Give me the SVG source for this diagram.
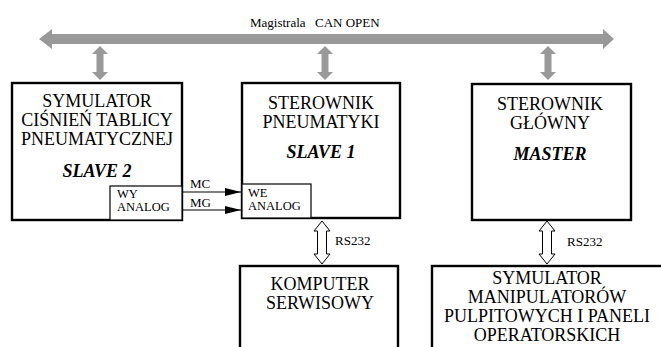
<svg xmlns="http://www.w3.org/2000/svg" width="661" height="347" viewBox="0 0 661 347">
<style>
.box{fill:#fff;stroke:#000;stroke-width:2.4}
.sub{fill:#fff;stroke:#000;stroke-width:1.2}
.t{font-family:"Liberation Serif","Times New Roman",serif;font-size:18px;text-anchor:middle;fill:#000}
.bi{font-family:"Liberation Serif","Times New Roman",serif;font-size:18px;font-weight:bold;font-style:italic;text-anchor:middle;fill:#000}
.s{font-family:"Liberation Serif","Times New Roman",serif;font-size:12.5px;fill:#000}
.bus{fill:#999;stroke:none}
.rs{fill:#fff;stroke:#000;stroke-width:1}
.ln{stroke:#000;stroke-width:1.2;fill:none}
</style>
<defs>
<marker id="ah" viewBox="0 0 16 8" refX="16" refY="4" markerWidth="16" markerHeight="8" markerUnits="userSpaceOnUse" orient="auto">
<path d="M0,0 L16,4 L0,8 Z" fill="#000"/>
</marker>
</defs>
<g id="bus-label"><text class="s" x="250" y="27" style="font-size:13px">Magistrala</text><text class="s" x="315" y="27" style="font-size:13px">CAN OPEN</text></g>
<g id="connectors">
<polygon class="bus" points="39,39 52,29 52,34 603,34 603,29 614,39 603,49 603,44 52,44 52,49"/>
<polygon class="bus" points="100,46 108,54 103.5,54 103.5,72 108,72 100,80 92,72 96.5,72 96.5,54 92,54"/>
<polygon class="bus" points="325,46 333,54 328.5,54 328.5,72 333,72 325,80 317,72 321.5,72 321.5,54 317,54"/>
<polygon class="bus" points="548,46 556,54 551.5,54 551.5,72 556,72 548,80 540,72 544.5,72 544.5,54 540,54"/>
<polygon class="rs" points="322,221 330,231 326.5,231 326.5,254 330,254 322,264 314,254 317.5,254 317.5,231 314,231"/>
<polygon class="rs" points="547,221 555,231 551.5,231 551.5,254 555,254 547,264 539,254 542.5,254 542.5,231 539,231"/>
<line class="ln" x1="183" y1="192" x2="241" y2="192" marker-end="url(#ah)"/>
<line class="ln" x1="183" y1="210" x2="241" y2="210" marker-end="url(#ah)"/>
<text class="s" x="190" y="188" style="font-size:13px">MC</text>
<text class="s" x="190" y="207" style="font-size:13px">MG</text>
<text class="s" x="335" y="245" style="font-size:13px">RS232</text>
<text class="s" x="567" y="246" style="font-size:13px">RS232</text>
</g>
<g id="slave2">
<rect class="box" x="12" y="83" width="170" height="137"/>
<text class="t" x="97" y="107">SYMULATOR</text>
<text class="t" x="97" y="126">CIŚNIEŃ TABLICY</text>
<text class="t" x="97" y="145">PNEUMATYCZNEJ</text>
<text class="bi" x="97" y="177">SLAVE 2</text>
<rect class="sub" x="110" y="186" width="72" height="34"/>
<text class="s" x="117" y="198">WY</text>
<text class="s" x="117" y="211">ANALOG</text>
</g>
<g id="slave1">
<rect class="box" x="242" y="83" width="158" height="135"/>
<text class="t" x="321" y="109">STEROWNIK</text>
<text class="t" x="321" y="128">PNEUMATYKI</text>
<text class="bi" x="321" y="158">SLAVE 1</text>
<rect class="sub" x="242" y="184" width="69" height="34"/>
<text class="s" x="248" y="197">WE</text>
<text class="s" x="248" y="210">ANALOG</text>
</g>
<g id="master">
<rect class="box" x="472" y="84" width="159" height="136"/>
<text class="t" x="550" y="110">STEROWNIK</text>
<text class="t" x="550" y="129">GŁÓWNY</text>
<text class="bi" x="550" y="160">MASTER</text>
</g>
<g id="komputer">
<rect class="box" x="240" y="266" width="158" height="100"/>
<text class="t" x="320" y="290">KOMPUTER</text>
<text class="t" x="320" y="309">SERWISOWY</text>
</g>
<g id="symulator">
<rect class="box" x="432" y="266" width="240" height="100"/>
<text class="t" x="547" y="284">SYMULATOR</text>
<text class="t" x="547" y="303">MANIPULATORÓW</text>
<text class="t" x="547" y="322">PULPITOWYCH I PANELI</text>
<text class="t" x="547" y="341">OPERATORSKICH</text>
</g>
</svg>
